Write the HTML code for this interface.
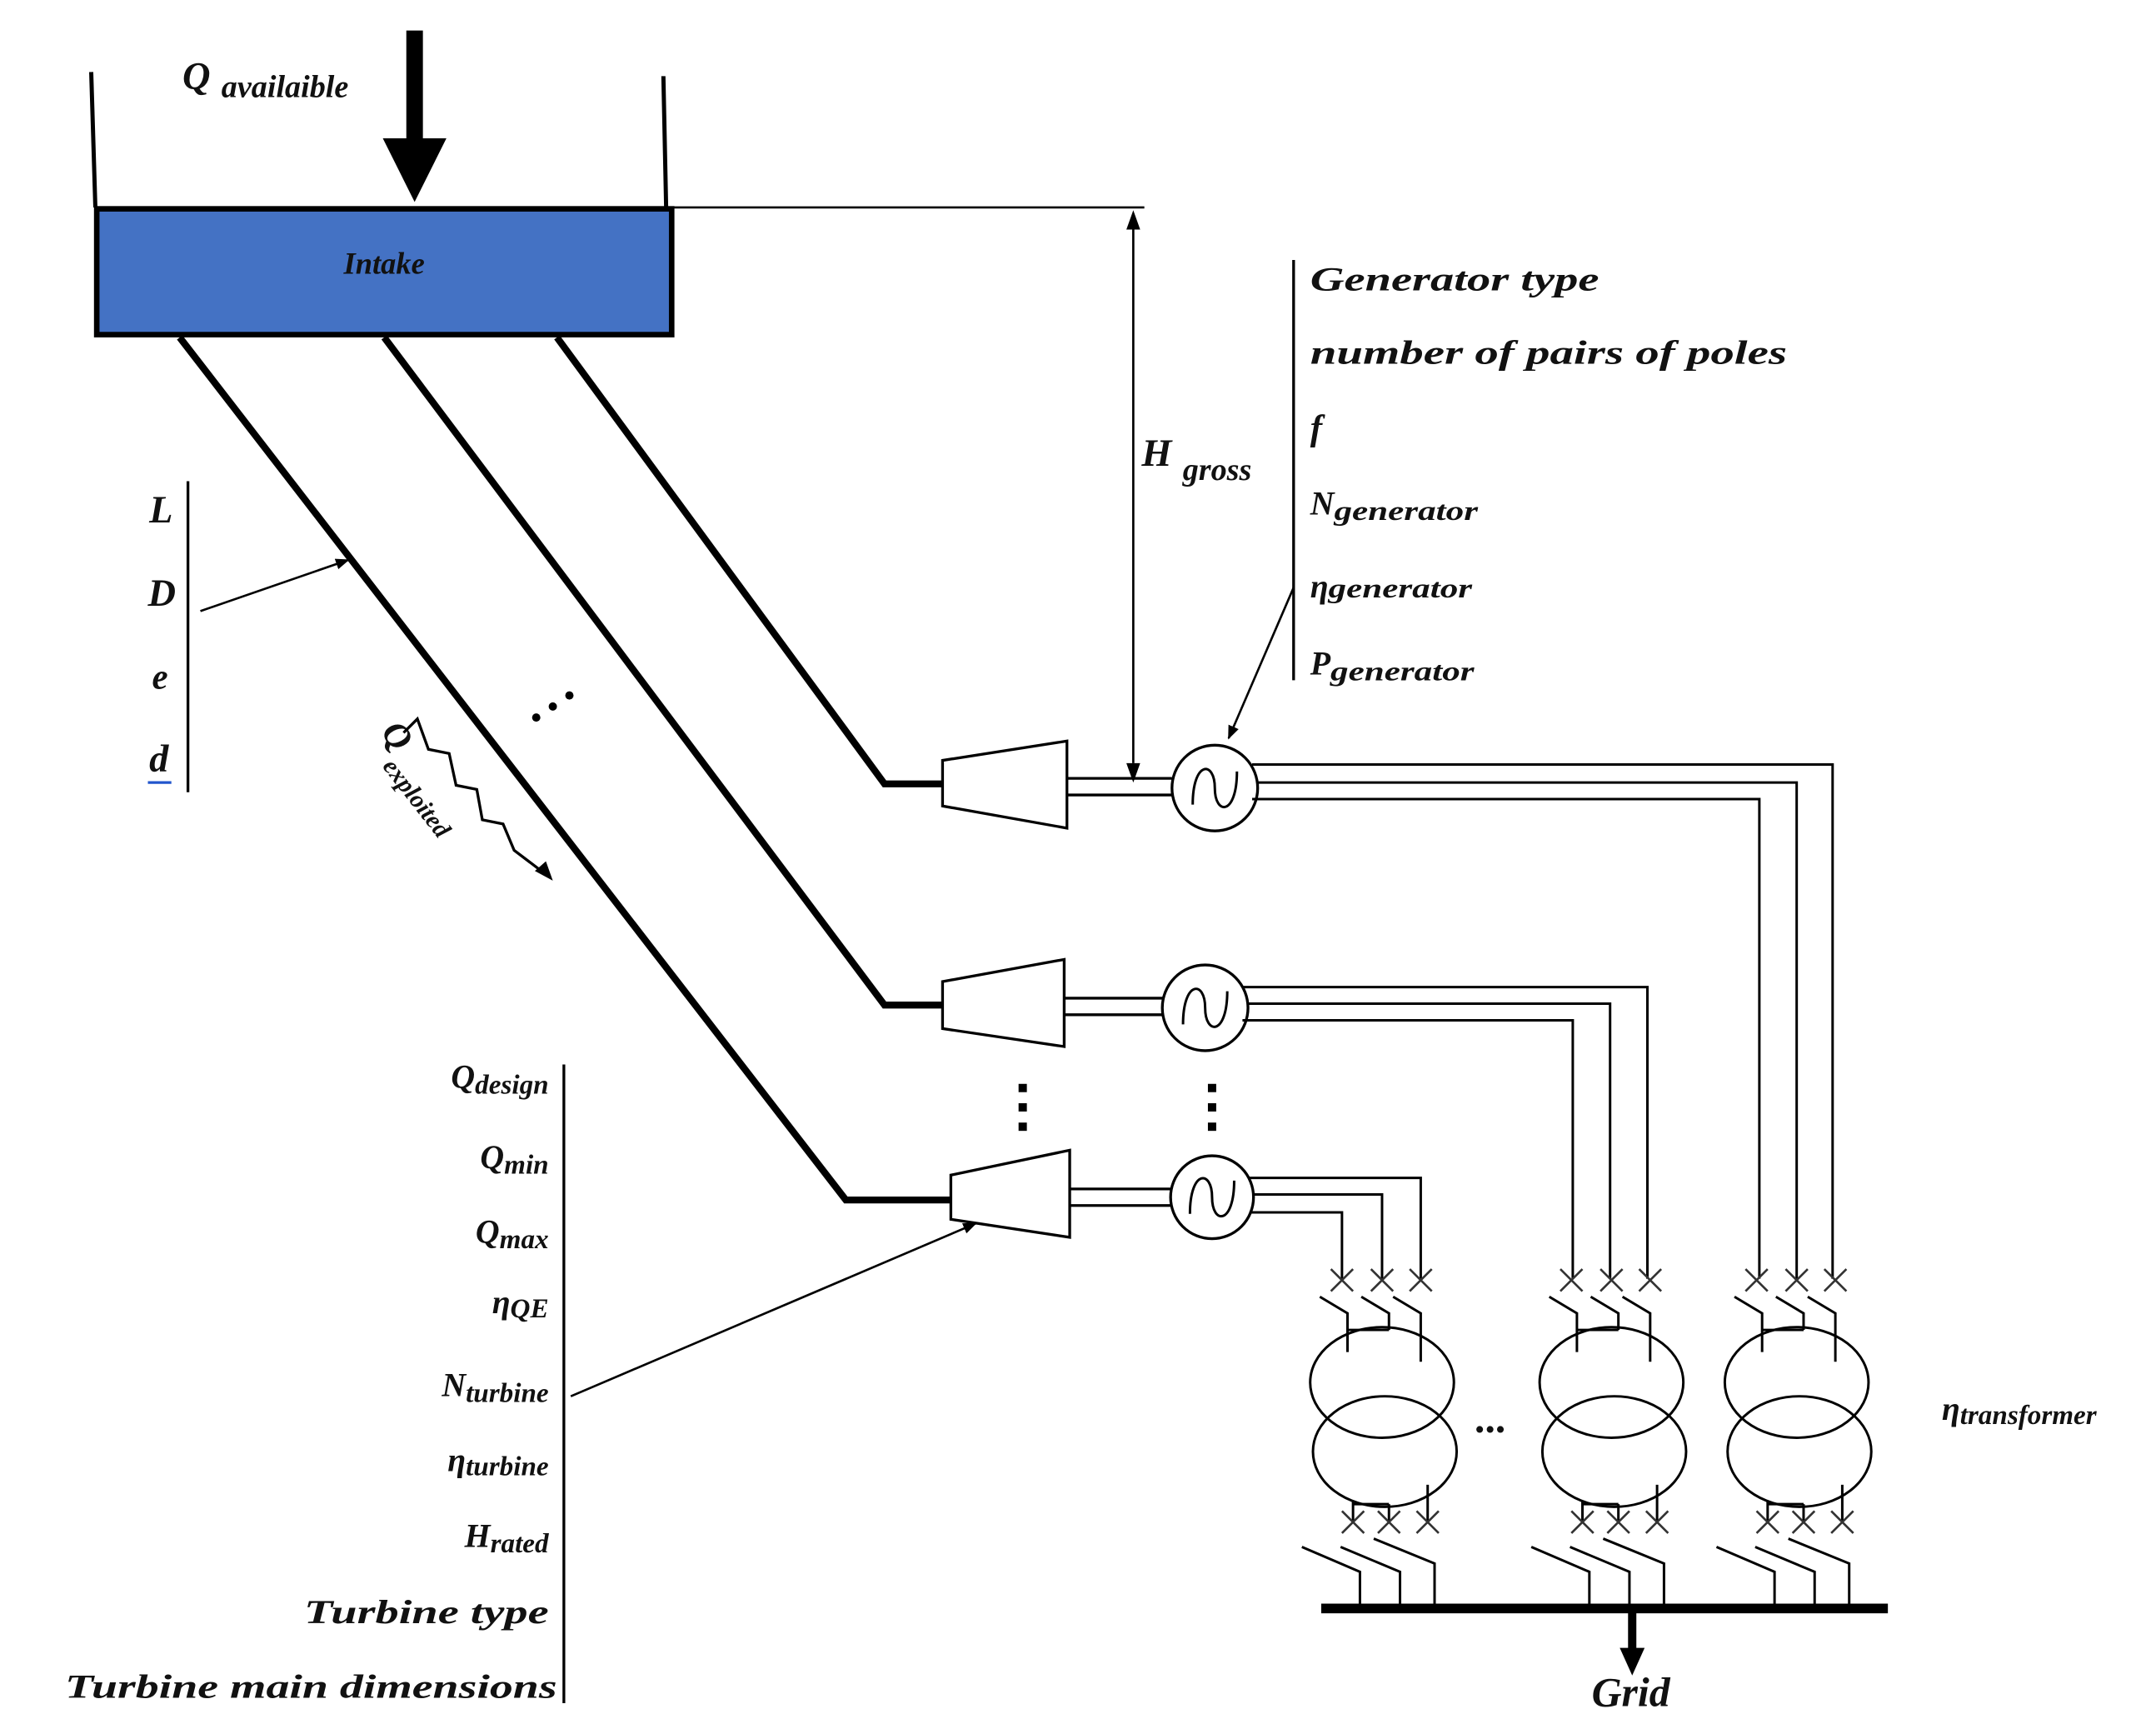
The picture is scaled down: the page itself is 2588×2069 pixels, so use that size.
<!DOCTYPE html>
<html><head><meta charset="utf-8"><style>
html,body{margin:0;padding:0;background:#fff;}
svg{display:block;}
text{font-family:"Liberation Serif",serif;font-style:italic;font-weight:bold;fill:#111;}
</style></head><body>
<svg width="2588" height="2069" viewBox="0 0 1560 1247" xmlns="http://www.w3.org/2000/svg">
<defs>
<marker id="ah" markerWidth="10" markerHeight="10" refX="9" refY="5" orient="auto" markerUnits="userSpaceOnUse"><path d="M0,1 L10,5 L0,9 Z" fill="#000"/></marker>
<g id="tr" stroke="#000" fill="none">
  <g stroke-width="1.6" stroke="#333">
    <path d="M-37,918 L-21,934 M-21,918 L-37,934"/>
    <path d="M-8,918 L8,934 M8,918 L-8,934"/>
    <path d="M20,918 L36,934 M36,918 L20,934"/>
  </g>
  <g stroke-width="1.8">
    <path d="M-45,938 L-25,950 L-25,978"/>
    <path d="M-15,938 L5,950 L5,962"/>
    <path d="M8,938 L28,950 L28,985"/>
    <path d="M-25,962 L5,962"/>
    <ellipse cx="0" cy="1000" rx="52" ry="40"/>
    <ellipse cx="2" cy="1050" rx="52" ry="40"/>
    <path d="M-21,1086 L-21,1102 M5,1088 L5,1102 M33,1074 L33,1102 M-21,1088 L5,1088"/>
  </g>
  <g stroke-width="1.6" stroke="#333">
    <path d="M-29,1093 L-13,1109 M-13,1093 L-29,1109"/>
    <path d="M-3,1093 L13,1109 M13,1093 L-3,1109"/>
    <path d="M25,1093 L41,1109 M41,1093 L25,1109"/>
  </g>
  <g stroke-width="1.8">
    <path d="M-58,1119 L-16,1137 L-16,1163"/>
    <path d="M-30,1119 L13,1137 L13,1163"/>
    <path d="M-6,1113 L38,1131 L38,1163"/>
  </g>
</g>
</defs>

<line x1="66" y1="52" x2="69" y2="150" stroke="#000" stroke-width="3"/>
<line x1="480" y1="55" x2="482" y2="150" stroke="#000" stroke-width="3"/>
<rect x="70" y="151" width="416" height="91" fill="#4472C4" stroke="#000" stroke-width="4"/>
<text x="278" y="198" font-size="22" text-anchor="middle">Intake</text>
<rect x="294" y="22" width="12" height="80" fill="#000"/>
<polygon points="277,100 323,100 300,146" fill="#000"/>
<text x="132" y="64" font-size="28">Q<tspan font-size="23" dx="8" dy="6">availaible</tspan></text>
<line x1="486" y1="150" x2="828" y2="150" stroke="#000" stroke-width="1.6"/>
<line x1="820" y1="165" x2="820" y2="552" stroke="#000" stroke-width="1.6"/>
<polygon points="820,152 815,166 825,166" fill="#000"/>
<polygon points="820,566 815,552 825,552" fill="#000"/>
<text x="826" y="337" font-size="28">H<tspan font-size="23" dx="8" dy="10">gross</tspan></text>

<g stroke="#000" stroke-width="5" fill="none">
<polyline points="130,244 612,868 688,868"/>
<polyline points="278,244 640,727 682,727"/>
<polyline points="403,244 640,567 682,567"/>
</g>
<g stroke="#000" stroke-width="2" fill="#fff">
<polygon points="682,550 772,536 772,599 682,583"/>
<polygon points="682,710 770,694 770,757 682,744"/>
<polygon points="688,850 774,832 774,895 688,882"/>
</g>
<g stroke="#000" stroke-width="2">
<line x1="772" y1="563" x2="848" y2="563"/><line x1="772" y1="575" x2="848" y2="575"/>
<line x1="770" y1="722" x2="842" y2="722"/><line x1="770" y1="734" x2="842" y2="734"/>
<line x1="774" y1="860" x2="847" y2="860"/><line x1="774" y1="872" x2="847" y2="872"/>
</g>
<g stroke="#000" stroke-width="2" fill="#fff">
<circle cx="879" cy="570" r="31"/>
<circle cx="872" cy="729" r="31"/>
<circle cx="877" cy="866" r="30"/>
</g>
<g stroke="#000" stroke-width="1.8" fill="none">
<path d="M863,582 C863,550 879,550 879,570 C879,590 895,590 895,558"/>
<path d="M856,741 C856,709 872,709 872,729 C872,749 888,749 888,717"/>
<path d="M861,878 C861,846 877,846 877,866 C877,886 893,886 893,854"/>
</g>
<g stroke="#000" stroke-width="1.8" fill="none">
<polyline points="906,553 1326,553 1326,925"/>
<polyline points="909,566 1300,566 1300,925"/>
<polyline points="906,578 1273,578 1273,925"/>
<polyline points="899,714 1192,714 1192,925"/>
<polyline points="902,726 1165,726 1165,925"/>
<polyline points="899,738 1138,738 1138,925"/>
<polyline points="904,852 1028,852 1028,925"/>
<polyline points="907,864 1000,864 1000,925"/>
<polyline points="904,877 971,877 971,925"/>
</g>
<use href="#tr" transform="translate(1000,0)"/>
<use href="#tr" transform="translate(1166,0)"/>
<use href="#tr" transform="translate(1300,0)"/>
<rect x="956" y="1160" width="410" height="7" fill="#000"/>
<rect x="1178" y="1163" width="6" height="32" fill="#000"/>
<polygon points="1172,1192 1190,1192 1181,1212" fill="#000"/>
<text x="1180" y="1234" font-size="30" text-anchor="middle">Grid</text>
<text x="1068" y="1036" font-size="30">...</text>
<text x="1405" y="1027" font-size="24">η<tspan font-size="20" dy="3">transformer</tspan></text>

<line x1="936" y1="188" x2="936" y2="492" stroke="#000" stroke-width="2"/>
<text x="948" y="210" font-size="24" textLength="209" lengthAdjust="spacingAndGlyphs">Generator type</text>
<text x="948" y="263" font-size="24" textLength="345" lengthAdjust="spacingAndGlyphs">number of pairs of poles</text>
<text x="948" y="318" font-size="26">f</text>
<text x="948" y="372" font-size="24">N<tspan font-size="20" dy="4" textLength="104" lengthAdjust="spacingAndGlyphs">generator</tspan></text>
<text x="948" y="432" font-size="24">η<tspan font-size="20" dy="0" textLength="104" lengthAdjust="spacingAndGlyphs">generator</tspan></text>
<text x="948" y="488" font-size="24">P<tspan font-size="20" dy="4" textLength="104" lengthAdjust="spacingAndGlyphs">generator</tspan></text>
<line x1="936" y1="425" x2="889" y2="534" stroke="#000" stroke-width="1.6" marker-end="url(#ah)"/>

<line x1="136" y1="348" x2="136" y2="573" stroke="#000" stroke-width="2"/>
<text x="108" y="378" font-size="28">L</text>
<text x="107" y="438" font-size="28">D</text>
<text x="110" y="498" font-size="26">e</text>
<text x="108" y="558" font-size="28">d</text>
<line x1="107" y1="566" x2="124" y2="566" stroke="#2255cc" stroke-width="2"/>
<line x1="145" y1="442" x2="252" y2="405" stroke="#000" stroke-width="1.6" marker-end="url(#ah)"/>

<g transform="translate(275,530) rotate(52)"><text x="0" y="0" font-size="26">Q</text><text x="20" y="14" font-size="18">exploited</text></g>
<path d="M292,530 L302,520 L310,542 L325,545 L330,568 L345,571 L349,593 L364,596 L372,615 L397,634" stroke="#000" stroke-width="2" fill="none"/>
<polygon points="400,637 387,630 395,623" fill="#000"/>
<g fill="#000"><circle cx="388" cy="519" r="3"/><circle cx="400" cy="511" r="3"/><circle cx="412" cy="503" r="3"/></g>

<g fill="#000">
<rect x="737" y="784" width="6" height="6"/><rect x="737" y="798" width="6" height="6"/><rect x="737" y="812" width="6" height="6"/>
<rect x="874" y="784" width="6" height="6"/><rect x="874" y="798" width="6" height="6"/><rect x="874" y="812" width="6" height="6"/>
</g>

<line x1="408" y1="770" x2="408" y2="1232" stroke="#000" stroke-width="2"/>
<g font-size="24" text-anchor="end">
<text x="397" y="787">Q<tspan font-size="20" dy="4">design</tspan></text>
<text x="397" y="845">Q<tspan font-size="20" dy="4">min</tspan></text>
<text x="397" y="899">Q<tspan font-size="20" dy="4">max</tspan></text>
<text x="397" y="950">η<tspan font-size="20" dy="3">QE</tspan></text>
<text x="397" y="1010">N<tspan font-size="20" dy="4">turbine</tspan></text>
<text x="397" y="1064">η<tspan font-size="20" dy="3">turbine</tspan></text>
<text x="397" y="1119">H<tspan font-size="20" dy="4">rated</tspan></text>
</g>
<text x="220" y="1174" font-size="24" textLength="177" lengthAdjust="spacingAndGlyphs">Turbine type</text>
<text x="47" y="1228" font-size="24" textLength="356" lengthAdjust="spacingAndGlyphs">Turbine main dimensions</text>
<line x1="413" y1="1010" x2="706" y2="885" stroke="#000" stroke-width="1.6" marker-end="url(#ah)"/>
</svg>
</body></html>
